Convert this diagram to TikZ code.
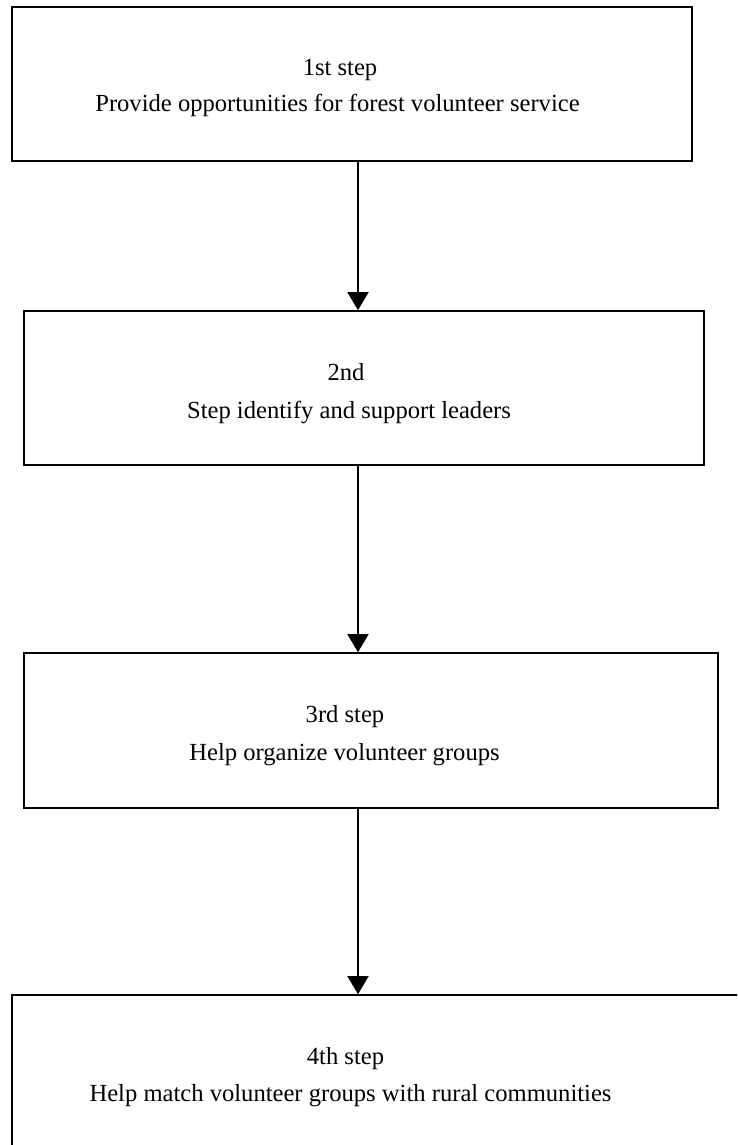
\documentclass[tikz,border=0pt]{standalone}
\usepackage{fontspec}
\setmainfont{Liberation Serif}
\usetikzlibrary{arrows.meta}
\begin{document}
\begin{tikzpicture}[x=1pt,y=-1pt,
  stepbox/.style={draw=black,line width=1.6pt,rectangle,inner sep=0pt},
  steptext/.style={anchor=base,inner sep=0pt,font=\fontsize{24.6}{30}\selectfont},
  flow/.style={line width=1.5pt,-{Triangle[length=18pt,width=21pt]}}]
\clip (0,0) rectangle (737,1145);
\fill[white] (0,0) rectangle (737,1145);

% step boxes (corner to corner)
\node[stepbox,minimum width=680pt,minimum height=154pt] (b1) at (352,84) {};
\node[stepbox,minimum width=680pt,minimum height=154pt] (b2) at (364,388) {};
\node[stepbox,minimum width=694pt,minimum height=155pt] (b3) at (371,730.5) {};
\node[stepbox,minimum width=760pt,minimum height=180pt] (b4) at (392,1085) {};

% labels
\node[steptext] (t1a) at (340,76) {1st step};
\node[steptext] (t1b) at (337.5,111.7) {Provide opportunities for forest volunteer service};
\node[steptext] (t2a) at (346,380) {2nd};
\node[steptext] (t2b) at (349,418) {Step identify and support leaders};
\node[steptext] (t3a) at (345,722) {3rd step};
\node[steptext] (t3b) at (344.5,760) {Help organize volunteer groups};
\node[steptext] (t4a) at (345.5,1064) {4th step};
\node[steptext] (t4b) at (350.5,1101.7) {Help match volunteer groups with rural communities};

% connectors
\coordinate (col) at (358,0);
\draw[flow] (b1.south -| col) -- (b2.north -| col);
\draw[flow] (b2.south -| col) -- (b3.north -| col);
\draw[flow] (b3.south -| col) -- (b4.north -| col);
\end{tikzpicture}
\end{document}
